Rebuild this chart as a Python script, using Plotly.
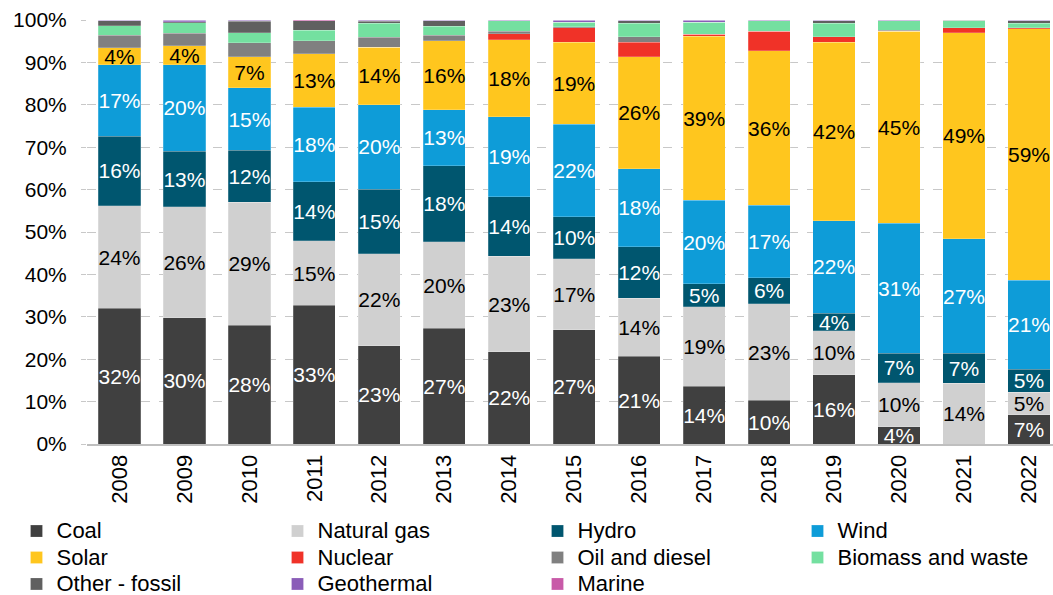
import plotly.graph_objects as go

years = ['2008', '2009', '2010', '2011', '2012', '2013', '2014', '2015',
         '2016', '2017', '2018', '2019', '2020', '2021', '2022']

# share of generation, %
coal = [32.0, 29.8, 27.9, 32.7, 23.2, 27.3, 21.7, 27.0, 20.7, 13.6, 10.3, 16.3, 4.1, 0.0, 6.9]
natural_gas = [24.2, 26.1, 29.0, 15.3, 21.7, 20.4, 22.6, 16.7, 13.6, 18.8, 22.7, 10.4, 10.4, 14.3, 5.3]
hydro = [16.4, 13.2, 12.2, 13.9, 15.3, 17.9, 14.0, 9.9, 12.2, 5.4, 6.2, 4.1, 6.9, 7.1, 5.4]
wind = [16.9, 20.4, 14.7, 17.6, 19.9, 13.2, 18.9, 21.8, 18.4, 19.7, 17.0, 21.9, 30.7, 27.0, 20.9]
solar = [3.9, 4.4, 7.4, 12.6, 13.6, 16.3, 18.2, 19.4, 26.4, 38.8, 36.4, 42.1, 45.3, 48.6, 59.3]
nuclear = [0.0, 0.0, 0.0, 0.0, 0.0, 0.0, 1.3, 3.4, 3.3, 0.4, 4.7, 1.2, 0.0, 1.2, 0.2]
oil_diesel = [3.0, 3.0, 3.3, 3.1, 2.3, 1.3, 0.7, 0.2, 1.3, 0.0, 0.0, 0.0, 0.2, 0.0, 0.0]
biomass = [2.3, 2.5, 2.3, 2.5, 3.3, 2.1, 2.4, 1.1, 3.2, 2.9, 2.4, 3.2, 2.2, 1.6, 1.0]
other_fossil = [1.1, 0.2, 2.7, 2.2, 0.5, 1.3, 0.0, 0.0, 0.6, 0.0, 0.0, 0.6, 0.0, 0.2, 0.6]
geothermal = [0.2, 0.4, 0.3, 0.0, 0.3, 0.2, 0.2, 0.5, 0.2, 0.5, 0.2, 0.2, 0.2, 0.0, 0.2]
marine = [0.0, 0.0, 0.0, 0.2, 0.0, 0.0, 0.0, 0.0, 0.0, 0.0, 0.0, 0.0, 0.0, 0.0, 0.0]

# name, values, colour, label colour (None = no labels), legend column
series = [
    ('Coal', coal, '#404040', 'white', 'legend'),
    ('Natural gas', natural_gas, '#d0d0d0', 'black', 'legend2'),
    ('Hydro', hydro, '#00566f', 'white', 'legend3'),
    ('Wind', wind, '#0e9cd8', 'white', 'legend4'),
    ('Solar', solar, '#ffc61e', 'black', 'legend'),
    ('Nuclear', nuclear, '#f03228', None, 'legend2'),
    ('Oil and diesel', oil_diesel, '#808080', None, 'legend3'),
    ('Biomass and waste', biomass, '#74e0a0', None, 'legend4'),
    ('Other - fossil', other_fossil, '#606060', None, 'legend'),
    ('Geothermal', geothermal, '#8a5db8', None, 'legend2'),
    ('Marine', marine, '#c85aa8', None, 'legend3'),
]

FONT = 'Liberation Sans, Arial, sans-serif'

fig = go.Figure()
for name, vals, color, txtcol, leg in series:
    if txtcol:
        labels = [f'{round(v)}%' if v >= 3.5 else '' for v in vals]
    else:
        labels = None
    fig.add_trace(go.Bar(
        x=years, y=vals,
        # bigger text than the legend font, so rows stay tight
        name=f'<span style="font-size:22px">{name}</span>',
        legend=leg,
        marker=dict(color=color, line=dict(color='rgba(255,255,255,0.35)', width=0.6)),
        text=labels,
        textposition='inside' if labels else 'none',
        insidetextanchor='middle',
        textangle=0,
        textfont=dict(color=txtcol or 'black', size=21, family=FONT),
        constraintext='none',
        hovertemplate=f'{name}<br>%{{x}}: %{{y:.1f}}%<extra></extra>',
    ))


def legend_col(x_px):
    return dict(
        orientation='v',
        traceorder='normal',
        xref='container', yref='container',
        x=x_px / 1053, xanchor='left',
        y=0.138, yanchor='top',
        font=dict(size=18, family=FONT),
        itemclick=False,
        bgcolor='rgba(0,0,0,0)',
    )


fig.update_layout(
    barmode='stack',
    barnorm='percent',
    bargap=0.35,
    width=1053, height=595,
    margin=dict(l=87, r=0, t=20, b=151, autoexpand=False),
    plot_bgcolor='white',
    paper_bgcolor='white',
    font=dict(family=FONT, size=21, color='black'),
    uniformtext=dict(minsize=8, mode='show'),
    legend=legend_col(16.5),
    legend2=legend_col(277.5),
    legend3=legend_col(537.5),
    legend4=legend_col(797.5),
    xaxis=dict(
        range=[-0.5, 14.37],
        tickangle=-90,
        tickfont=dict(size=22),
        showline=True, linecolor='#bfbfbf', linewidth=2,
        ticks='',
        automargin=False,
    ),
    yaxis=dict(
        range=[0, 100],
        dtick=10,
        ticksuffix='%',
        showgrid=True, gridcolor='#c8c8c8', griddash='dash', gridwidth=1,
        zeroline=False,
        ticks='outside', ticklen=5, tickcolor='#c8c8c8',
        ticklabelstandoff=10,
        tickfont=dict(size=21),
        automargin=False,
    ),
)

# page body has an 8px default margin, drop it so the figure fills the window
fig.write_html('out.html', config={'displayModeBar': False},
               post_script="document.body.style.margin='0';")
